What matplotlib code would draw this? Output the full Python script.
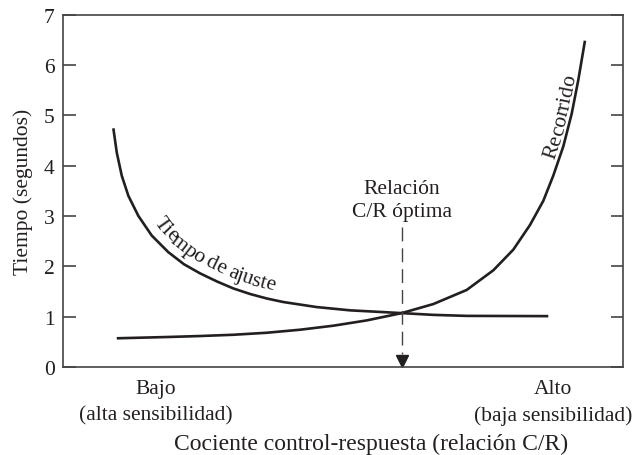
import numpy as np
import matplotlib
matplotlib.use('Agg')
import matplotlib.pyplot as plt
from matplotlib.font_manager import FontProperties

plt.rcParams['font.family'] = 'Liberation Serif'

# datos (x: cociente C/R en escala 0-100, y: segundos)
ajuste_x = [8.98, 9.59, 10.48, 11.66, 13.45, 15.84, 18.80, 21.6, 24.46, 27.45, 30.41, 33.39,
            36.4, 39.34, 45.3, 51.25, 57.2, 60.48, 66.13, 72.09, 86.66]
ajuste_y = [4.74, 4.26, 3.80, 3.40, 3.00, 2.61, 2.28, 2.04, 1.86, 1.70, 1.56, 1.45,
            1.36, 1.29, 1.19, 1.125, 1.09, 1.07, 1.035, 1.015, 1.01]

recorrido_x = [9.59, 18.5, 24.46, 30.41, 36.38, 42.32, 48.27, 54.23, 60.48, 66.13, 72.09,
               76.84, 80.41, 83.39, 85.77, 87.55, 89.34, 90.84, 92.02, 93.21]
recorrido_y = [0.57, 0.595, 0.615, 0.64, 0.68, 0.74, 0.82, 0.925, 1.07, 1.25, 1.53,
               1.92, 2.33, 2.82, 3.30, 3.80, 4.38, 5.03, 5.70, 6.48]

optimo_x = 60.48
y_ticks = [0, 1, 2, 3, 4, 5, 6, 7]

ink = '#231f20'
fs = 15.5

fig = plt.figure(figsize=(6.37, 4.56), dpi=100)
ax = fig.add_axes([0.099, 0.193, 0.879, 0.773])
ax.set_xlim(0, 100)
ax.set_ylim(0, 7)

ax.plot(ajuste_x, ajuste_y, color=ink, lw=1.9, solid_capstyle='butt', solid_joinstyle='round')
ax.plot(recorrido_x, recorrido_y, color=ink, lw=1.9, solid_capstyle='butt', solid_joinstyle='round')

# flecha discontinua hacia el optimo
ax.plot([optimo_x, optimo_x], [2.78, 0.25], color='#444444', lw=1.0, dashes=(10, 5))
ax.plot([optimo_x], [0.12], marker='v', color=ink, markersize=9, clip_on=False)
ax.text(optimo_x, 2.9, 'Relación\nC/R óptima', ha='center', va='bottom',
        fontsize=fs, color=ink, linespacing=1.3)

ax.set_yticks(y_ticks)
ax.set_xticks([])
ax.tick_params(axis='y', direction='in', length=9, width=1.2, color='#444444',
               labelsize=fs, labelcolor=ink, right=True, pad=6)
for s in ax.spines.values():
    s.set_color('#444444')
    s.set_linewidth(1.2)

ax.set_ylabel('Tiempo (segundos)', fontsize=fs, color=ink, labelpad=8)
ax.set_xlabel('Cociente control-respuesta (relación C/R)', fontsize=17, color=ink)
ax.xaxis.set_label_coords(0.55, -0.188)

trans = ax.get_xaxis_transform()
ax.text(16.5, -0.035, 'Bajo\n(alta sensibilidad)', transform=trans, ha='center', va='top',
        fontsize=fs, color=ink, linespacing=1.45)
ax.text(87.5, -0.035, 'Alto\n(baja sensibilidad)', transform=trans, ha='center', va='top',
        fontsize=fs, color=ink, linespacing=1.45)


def curved_text(xs, ys, text, x_start, offset):
    # coloca cada letra sobre la curva, girada segun la tangente local
    renderer = fig.canvas.get_renderer()
    fp = FontProperties(family='Liberation Serif', size=fs)
    pts = ax.transData.transform(np.column_stack([xs, ys]))
    seg = np.hypot(*np.diff(pts, axis=0).T)
    cum = np.concatenate([[0], np.cumsum(seg)])
    s0 = np.interp(x_start, xs, cum)

    def w(s):
        return renderer.get_text_width_height_descent('l' + s + 'l', fp, ismath=False)[0] - \
            renderer.get_text_width_height_descent('ll', fp, ismath=False)[0]

    for i, ch in enumerate(text):
        if ch == ' ':
            continue
        sc = s0 + (w(text[:i]) + w(text[:i + 1])) / 2
        k = min(max(np.searchsorted(cum, sc) - 1, 0), len(seg) - 1)
        t = (sc - cum[k]) / seg[k]
        p = pts[k] + t * (pts[k + 1] - pts[k])
        # tangente suavizada con los segmentos vecinos
        k0, k1 = max(k - 1, 0), min(k + 2, len(pts) - 1)
        d = pts[k1] - pts[k0]
        d = d / np.hypot(*d)
        nrm = np.array([-d[1], d[0]])
        q = p + nrm * offset
        ang = np.degrees(np.arctan2(d[1], d[0]))
        xd, yd = ax.transData.inverted().transform(q)
        ax.text(xd, yd, ch, rotation=ang, rotation_mode='anchor', ha='center', va='baseline',
                color=ink, fontproperties=fp)


curved_text(ajuste_x, ajuste_y, 'Tiempo de ajuste', 14.8, 10)
curved_text(recorrido_x, recorrido_y, 'Recorrido', 88.5, 4)

fig.savefig('out.png', dpi=100)
